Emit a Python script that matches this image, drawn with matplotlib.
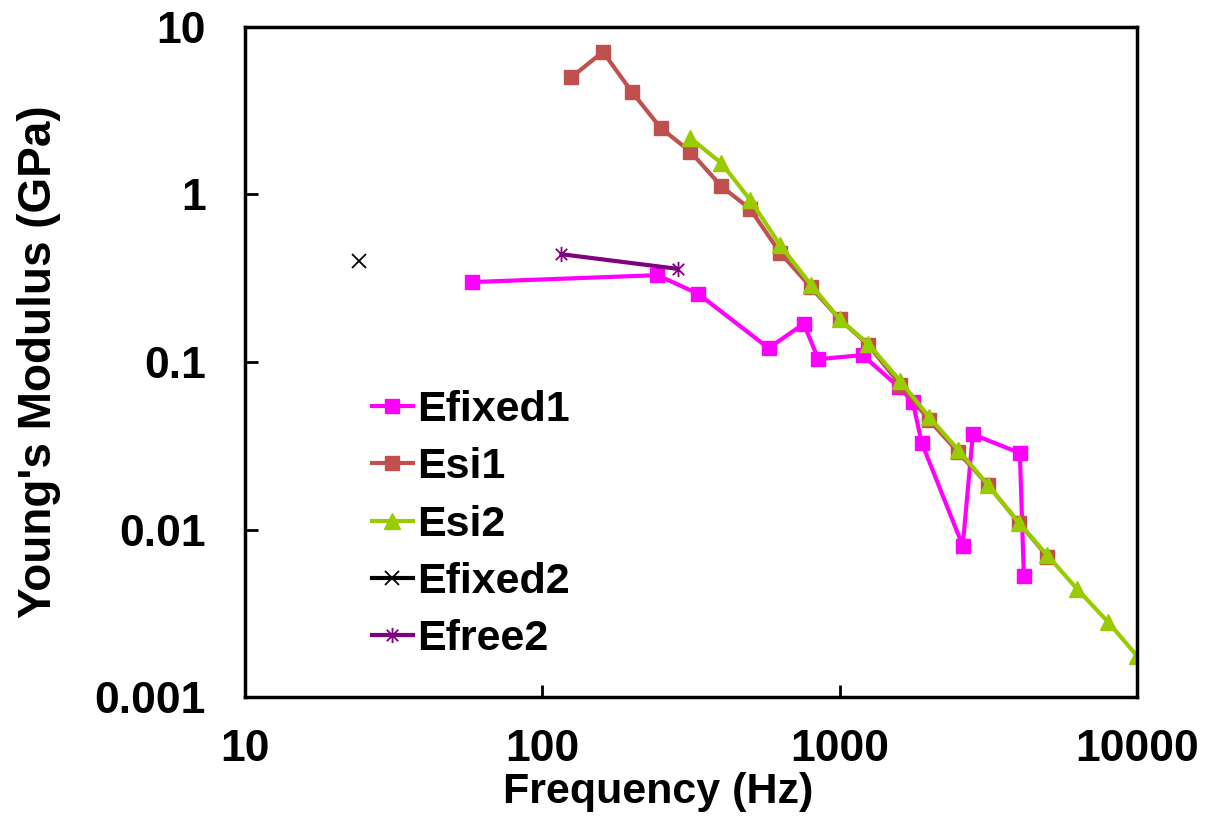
import numpy as np
import matplotlib
matplotlib.use("Agg")
import matplotlib.pyplot as plt
from matplotlib.path import Path

plt.rcParams['font.family'] = ['Liberation Sans', 'DejaVu Sans']
plt.rcParams['font.weight'] = 'bold'

# dati
f_fixed1 = [58, 244, 335, 577, 757, 849, 1194, 1580, 1761, 1888, 2594, 2805, 4037, 4164]
E_fixed1 = [0.30, 0.33, 0.255, 0.121, 0.169, 0.104, 0.110, 0.071, 0.058, 0.033, 0.0080, 0.037, 0.0286, 0.0053]

f_si1 = [125, 160, 200, 250, 315, 400, 500, 630, 800, 1000, 1250, 1600, 2000, 2500, 3150, 4000, 5000]
E_si1 = [5.0, 7.1, 4.1, 2.5, 1.8, 1.12, 0.82, 0.45, 0.28, 0.18, 0.126, 0.073, 0.045, 0.029, 0.0185, 0.011, 0.0069]

f_si2 = [315, 400, 500, 630, 800, 1000, 1250, 1600, 2000, 2500, 3150, 4000, 5000, 6300, 8000, 10000]
E_si2 = [2.17, 1.54, 0.93, 0.50, 0.29, 0.18, 0.128, 0.077, 0.047, 0.030, 0.0185, 0.011, 0.0070, 0.0044, 0.0028, 0.00176]

f_fixed2 = [24.2]
E_fixed2 = [0.40]

f_free2 = [116, 285]
E_free2 = [0.44, 0.36]

xticks = [10, 100, 1000, 10000]
yticks = [0.001, 0.01, 0.1, 1, 10]
ytick_labels = ['0.001', '0.01', '0.1', '1', '10']

# marker asterisco stile Excel (X + linea verticale)
a = 0.75
star = Path([(0, -1), (0, 1), (-a, -a), (a, a), (-a, a), (a, -a)],
            [Path.MOVETO, Path.LINETO, Path.MOVETO, Path.LINETO, Path.MOVETO, Path.LINETO])

fig = plt.figure(figsize=(12.12, 8.18), dpi=100)
ax = fig.add_axes([0.2021, 0.1479, 0.736, 0.8191])

ax.plot(f_fixed1, E_fixed1, color='#FF00FF', lw=3, marker='s', ms=10.5, label='Efixed1')
ax.plot(f_si1, E_si1, color='#C0504D', lw=3, marker='s', ms=10.5, label='Esi1')
ax.plot(f_si2, E_si2, color='#99CC00', lw=3, marker='^', ms=11, label='Esi2')
ax.plot(f_fixed2, E_fixed2, color='black', lw=3, marker='x', ms=10, mew=1.3, label='Efixed2')
ax.plot(f_free2, E_free2, color='#800080', lw=3, marker=star, ms=11, mew=1.3, label='Efree2')

ax.set_xscale('log')
ax.set_yscale('log')
ax.set_xlim(10, 10000)
ax.set_ylim(0.001, 10)
ax.set_xticks(xticks)
ax.set_xticklabels([str(t) for t in xticks])
ax.set_yticks(yticks)
ax.set_yticklabels(ytick_labels)
ax.minorticks_off()

for s in ax.spines.values():
    s.set_linewidth(2.5)
ax.tick_params(axis='both', direction='in', length=9, width=2, labelsize=32)
ax.tick_params(axis='y', pad=28)
ax.tick_params(axis='x', pad=23)

ax.set_xlabel('Frequency (Hz)', fontsize=31, fontweight='bold')
ax.xaxis.set_label_coords(0.463, -0.112)
ax.set_ylabel("Young's Modulus (GPa)", fontsize=33, fontweight='bold', labelpad=24)

ax.legend(loc='upper left', bbox_to_anchor=(0.142, 0.458), frameon=False, fontsize=31,
          handlelength=0.95, handletextpad=0.1, labelspacing=0.4, borderpad=0, borderaxespad=0)

fig.savefig('out.png', dpi=100)
